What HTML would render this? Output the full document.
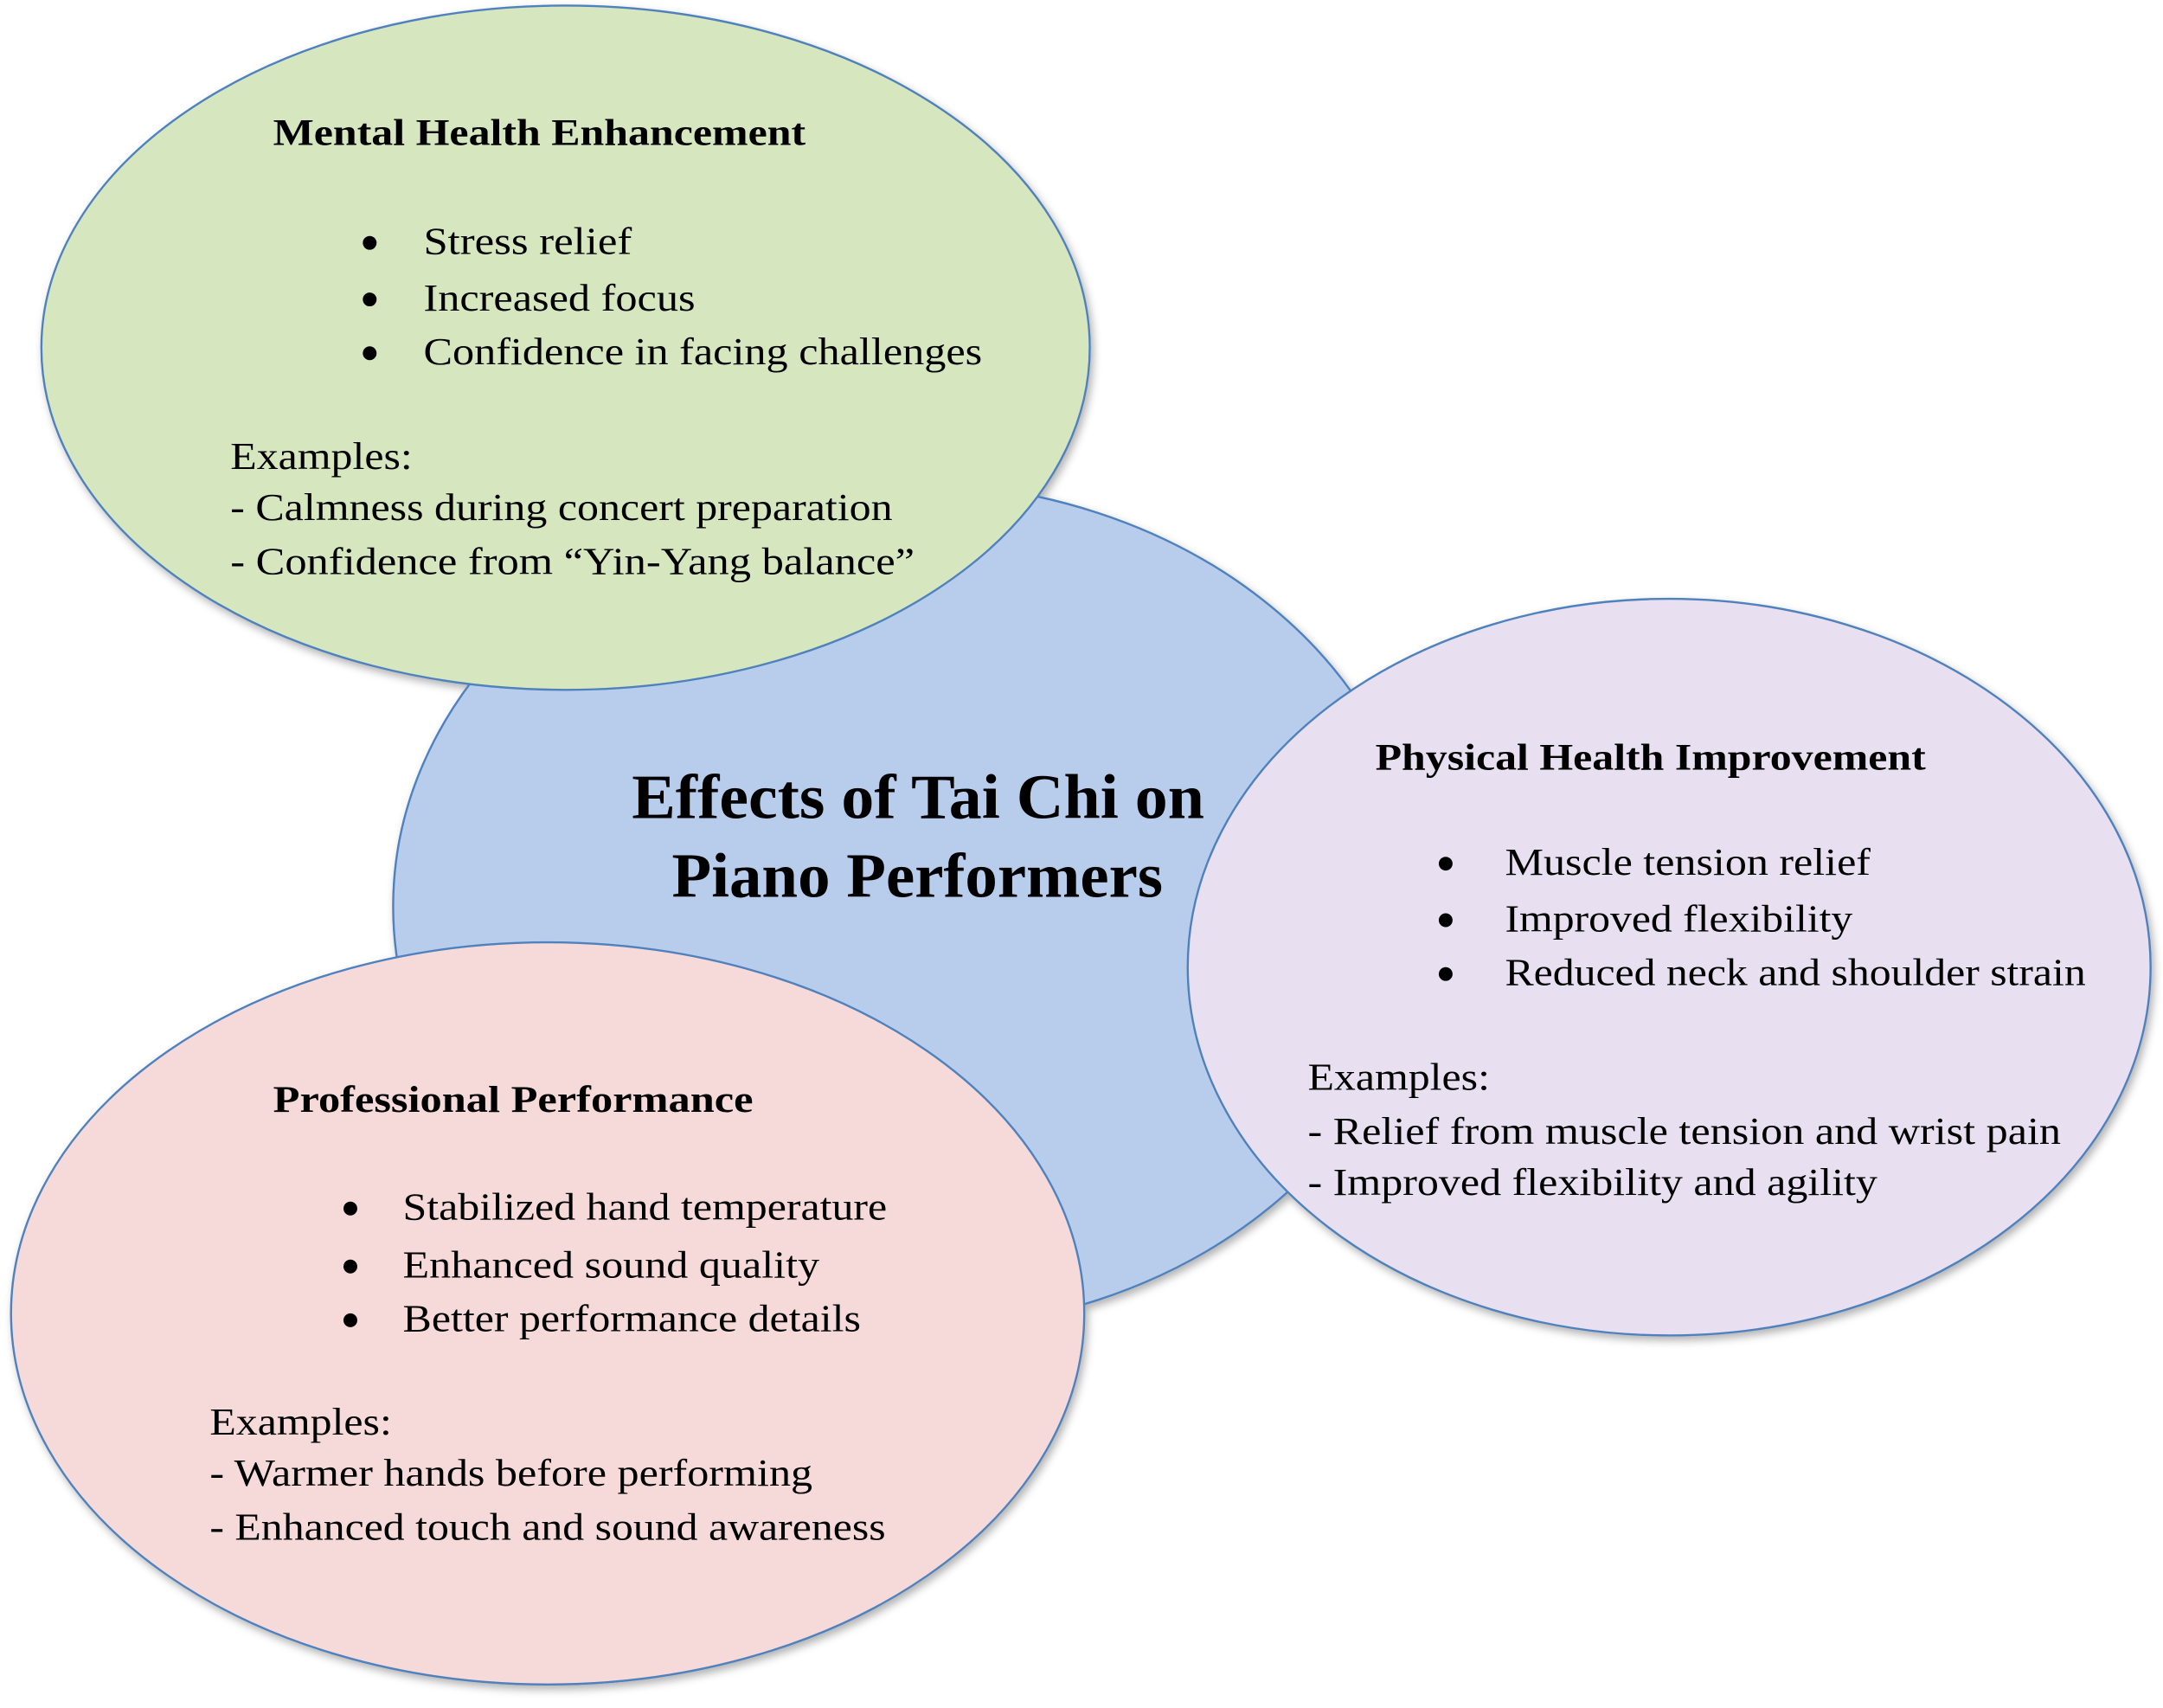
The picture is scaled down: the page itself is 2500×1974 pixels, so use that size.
<!DOCTYPE html>
<html><head><meta charset="utf-8">
<style>
html,body{margin:0;padding:0;background:#fff;}
svg{display:block;}
text{font-family:"Liberation Serif",serif;fill:#000;}
.h{font-weight:bold;font-size:27px;}
.b{font-size:28px;}
.t{font-weight:bold;font-size:46px;}
</style></head>
<body>
<svg width="2500" height="1974" viewBox="0 0 1568 1238" xmlns="http://www.w3.org/2000/svg">
<defs>
<filter id="s" x="-10%" y="-10%" width="120%" height="120%">
<feDropShadow dx="2" dy="3" stdDeviation="3" flood-color="#000" flood-opacity="0.3"/>
</filter>
</defs>
<g stroke="#4f81bd" stroke-width="1.5" filter="url(#s)">
<ellipse cx="658" cy="657" rx="373" ry="307" fill="#b8cdeb"/>
<ellipse cx="410" cy="252" rx="380" ry="248" fill="#d6e7c0"/>
<ellipse cx="1210" cy="701" rx="349" ry="267" fill="#e8dff0"/>
<ellipse cx="397" cy="952" rx="389" ry="269" fill="#f5dad9"/>
</g>

<text class="h" x="198" y="105" textLength="386" lengthAdjust="spacingAndGlyphs">Mental Health Enhancement</text>
<g class="b">
<circle cx="268" cy="176" r="5"/><text x="307" y="184" textLength="151" lengthAdjust="spacingAndGlyphs">Stress relief</text>
<circle cx="268" cy="217" r="5"/><text x="307" y="225" textLength="197" lengthAdjust="spacingAndGlyphs">Increased focus</text>
<circle cx="268" cy="256" r="5"/><text x="307" y="264" textLength="405" lengthAdjust="spacingAndGlyphs">Confidence in facing challenges</text>
<text x="167" y="340" textLength="132" lengthAdjust="spacingAndGlyphs">Examples:</text>
<text x="167" y="377" textLength="480" lengthAdjust="spacingAndGlyphs">- Calmness during concert preparation</text>
<text x="167" y="416" textLength="496" lengthAdjust="spacingAndGlyphs">- Confidence from “Yin-Yang balance”</text>
</g>

<text class="t" x="458" y="593" textLength="415" lengthAdjust="spacingAndGlyphs">Effects of Tai Chi on</text>
<text class="t" x="487" y="650" textLength="356" lengthAdjust="spacingAndGlyphs">Piano Performers</text>

<text class="h" x="997" y="558" textLength="399" lengthAdjust="spacingAndGlyphs">Physical Health Improvement</text>
<g class="b">
<circle cx="1048" cy="626" r="5"/><text x="1091" y="634" textLength="265" lengthAdjust="spacingAndGlyphs">Muscle tension relief</text>
<circle cx="1048" cy="667" r="5"/><text x="1091" y="675" textLength="252" lengthAdjust="spacingAndGlyphs">Improved flexibility</text>
<circle cx="1048" cy="706" r="5"/><text x="1091" y="714" textLength="421" lengthAdjust="spacingAndGlyphs">Reduced neck and shoulder strain</text>
<text x="948" y="790" textLength="132" lengthAdjust="spacingAndGlyphs">Examples:</text>
<text x="948" y="829" textLength="546" lengthAdjust="spacingAndGlyphs">- Relief from muscle tension and wrist pain</text>
<text x="948" y="866" textLength="413" lengthAdjust="spacingAndGlyphs">- Improved flexibility and agility</text>
</g>

<text class="h" x="198" y="806" textLength="348" lengthAdjust="spacingAndGlyphs">Professional Performance</text>
<g class="b">
<circle cx="254" cy="876" r="5"/><text x="292" y="884" textLength="351" lengthAdjust="spacingAndGlyphs">Stabilized hand temperature</text>
<circle cx="254" cy="918" r="5"/><text x="292" y="926" textLength="302" lengthAdjust="spacingAndGlyphs">Enhanced sound quality</text>
<circle cx="254" cy="957" r="5"/><text x="292" y="965" textLength="332" lengthAdjust="spacingAndGlyphs">Better performance details</text>
<text x="152" y="1040" textLength="132" lengthAdjust="spacingAndGlyphs">Examples:</text>
<text x="152" y="1077" textLength="437" lengthAdjust="spacingAndGlyphs">- Warmer hands before performing</text>
<text x="152" y="1116" textLength="490" lengthAdjust="spacingAndGlyphs">- Enhanced touch and sound awareness</text>
</g>
</svg>
</body></html>
